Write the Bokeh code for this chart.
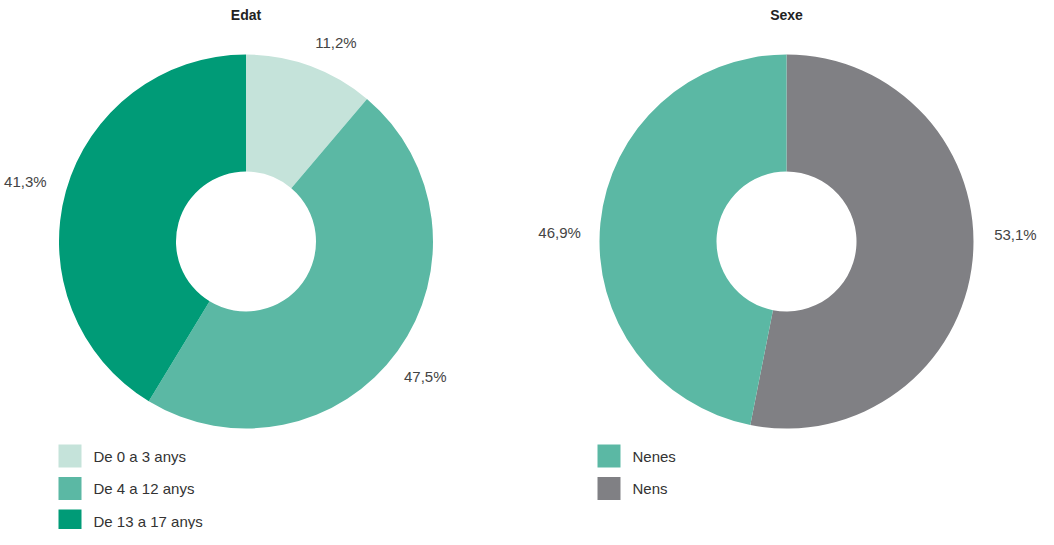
import math
from bokeh.plotting import figure
from bokeh.models import Range1d
from bokeh.core.properties import value
from bokeh.embed import file_html
from bokeh.resources import INLINE

# ---- data ----
age_labels = ["De 0 a 3 anys", "De 4 a 12 anys", "De 13 a 17 anys"]
age_values = [11.2, 47.5, 41.3]
age_colors = ["#c5e3da", "#5bb8a4", "#009b77"]

sex_labels = ["Nens", "Nenes"]          # drawn clockwise from top
sex_values = [53.1, 46.9]
sex_colors = ["#808084", "#5bb8a4"]
sex_legend_order = ["Nenes", "Nens"]

titles = ["Edat", "Sexe"]

# ---- layout ----
W, H = 1038, 529
OX, OY = 7, 6          # canvas offset relative to reference picture
age_nudge = [(12, 13), (-4, 3), (-3, 1)]
sex_nudge = [(4, -29), (-2, 13)]

p = figure(width=W, height=H, output_backend="svg", toolbar_location=None,
           x_range=Range1d(OX, OX + W), y_range=Range1d(545 - OY - H, 545 - OY),
           min_border=0, min_border_left=0, min_border_right=0,
           min_border_top=0, min_border_bottom=0)
p.axis.visible = False
p.grid.visible = False
p.outline_line_color = None
p.background_fill_color = "white"

def Y(img_y):
    return 545 - img_y

FONT = value("Liberation Sans")

def donut(cx, cy, labels, values, colors, title, nudge):
    total = sum(values)
    cum = 0.0
    starts, ends, mids = [], [], []
    for v in values:
        a0 = math.pi / 2 - 2 * math.pi * cum / total
        cum += v
        a1 = math.pi / 2 - 2 * math.pi * cum / total
        starts.append(a0)
        ends.append(a1)
        mids.append((a0 + a1) / 2)
    p.annular_wedge(x=[cx] * len(values), y=[Y(cy)] * len(values),
                    inner_radius=70, outer_radius=187,
                    start_angle=ends, end_angle=starts,
                    fill_color=colors, line_color=None)
    r = 226
    lx = [cx + r * math.cos(m) + n[0] for m, n in zip(mids, nudge)]
    ly = [Y(cy) + r * math.sin(m) - n[1] for m, n in zip(mids, nudge)]
    txt = [f"{v:.1f}%".replace(".", ",") for v in values]
    p.text(x=lx, y=ly, text=txt, text_font=FONT, text_font_size="15px",
           text_color="#444444", text_align="center", text_baseline="middle")
    p.text(x=[cx], y=[Y(20)], text=[title], text_font=FONT,
           text_font_size="14px", text_font_style="bold", text_color="#222222",
           text_align="center", text_baseline="middle")

donut(252.5, 247, age_labels, age_values, age_colors, titles[0], age_nudge)
donut(793, 247, sex_labels, sex_values, sex_colors, titles[1], sex_nudge)

def legend(x0, labels, colors):
    ys = [Y(461.5 + 32.5 * i) for i in range(len(labels))]
    p.rect(x=[x0 + 11.5] * len(labels), y=ys, width=23, height=23,
           fill_color=colors, line_color=None)
    p.text(x=[x0 + 35] * len(labels), y=ys, text=labels, text_font=FONT,
           text_font_size="15px", text_color="#333333",
           text_align="left", text_baseline="middle")

legend(65, age_labels, age_colors)
sex_col = dict(zip(sex_labels, sex_colors))
legend(604, sex_legend_order, [sex_col[l] for l in sex_legend_order])

open("out.html", "w").write(file_html(p, INLINE))
